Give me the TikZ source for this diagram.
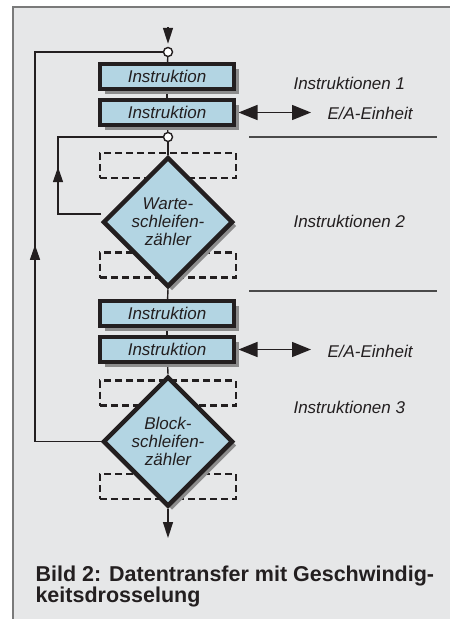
\documentclass[tikz,border=0pt]{standalone}
\usepackage{fontspec}
\setmainfont{Liberation Sans}
\usetikzlibrary{arrows.meta,positioning,shapes.geometric,shadows,backgrounds,decorations.markings}
\definecolor{paneel}{HTML}{E6E7E8}
\definecolor{rahmen}{HTML}{7A7A7A}
\definecolor{kasten}{HTML}{B3D5E3}
\definecolor{strich}{HTML}{231F20}
\definecolor{trenn}{HTML}{4A4A4A}
\definecolor{schatten}{HTML}{8C8C8C}
\tikzset{
  schrift/.style={font=\fontsize{17}{18}\selectfont\itshape, text=strich},
  instr/.style={schrift, draw=strich, line width=4pt, fill=kasten, minimum width=134pt, minimum height=25pt,
                inner sep=0pt, drop shadow={shadow xshift=4.5pt, shadow yshift=-4.5pt, fill=schatten, opacity=1}},
  leer/.style={draw=strich, line width=2.2pt, dash pattern=on 7pt off 4pt, minimum width=136pt,
               minimum height=25pt, inner sep=0pt},
  zaehler/.style={schrift, diamond, aspect=1, draw=strich, line width=4.5pt, fill=kasten, minimum width=130pt,
                  minimum height=130pt, inner sep=0pt, align=center,
                  drop shadow={shadow xshift=4pt, shadow yshift=-4pt, fill=schatten, opacity=1}},
  knoten/.style={circle, draw=strich, fill=white, line width=1.4pt, minimum size=9pt, inner sep=0pt},
  lab/.style={schrift, anchor=west},
  verb/.style={draw=strich, line width=1.4pt},
  pfeil/.style={verb, -{Triangle[length=16pt, width=10pt]}},
  doppel/.style={verb, {Triangle[length=19pt, width=15pt]}-{Triangle[length=19pt, width=15pt]}},
  rueck/.style={verb, postaction={decorate, decoration={markings,
                mark=at position #1 with {\arrow{Triangle[length=15pt, width=10pt]}}}}},
}
\begin{document}
\begin{tikzpicture}[x=1pt, y=-1pt]
  \useasboundingbox (0,0) rectangle (450,619);

  % Hauptstrang
  \coordinate (ein) at (168,27);
  \node[knoten] (k1) at (168,52) {};
  \node[instr] (i1) at (167,76.5) {Instruktion};
  \node[instr] (i2) at (167,112.5) {Instruktion};
  \node[knoten] (k2) at (168,137) {};
  \node[leer] (l1) at (168,165.5) {};
  \node[leer] (l2) at (168,265) {};
  \node[zaehler] (w) at (168,222) {Warte-\\schleifen-\\zähler};
  \node[instr] (i3) at (167,313.5) {Instruktion};
  \node[instr] (i4) at (167,349.5) {Instruktion};
  \node[leer] (l3) at (168,393) {};
  \node[leer] (l4) at (168,486.5) {};
  \node[zaehler] (b) at (168,441.5) {Block-\\schleifen-\\zähler};
  \coordinate (aus) at (168,538);
  \coordinate (w0) at (101,214);
  \coordinate (r1) at (58,137);
  \coordinate (r2) at (35,52);

  % rechte Spalte
  \node[lab] (t1) at (290,83) {Instruktionen 1};
  \node[lab] (ea1) at (324,113) {E/A-Einheit};
  \node[lab] (t2) at (290,221) {Instruktionen 2};
  \node[lab] (ea2) at (324,351) {E/A-Einheit};
  \node[lab] (t3) at (290,407) {Instruktionen 3};

  \node[font=\fontsize{21.5}{21.5}\selectfont\bfseries, text=strich, align=left, anchor=north west]
    (bild) at (32,562) {Bild 2: Datentransfer mit Geschwindig-\\keitsdrosselung};

  \begin{scope}[on background layer]
    \fill[paneel] (13,7) rectangle (450,619);
    \draw[rahmen, line width=1.8pt] (13,619) -- (13,7) -- (450,7);
    \draw[trenn, line width=1.8pt] (249,137) -- (437,137);
    \draw[trenn, line width=1.8pt] (249,291) -- (437,291);
    \draw[pfeil, shorten >=3pt] (ein) -- (k1.north);
    \draw[verb] (k1) -- (i1);
    \draw[verb] (i1) -- (i2);
    \draw[verb] (i2) -- (k2);
    \draw[verb] (k2) -- (w.north);
    \draw[verb] (w.south) -- (i3);
    \draw[verb] (i3) -- (i4);
    \draw[verb] (i4) -- (b.north);
    \draw[pfeil] (b.south) -- (aus);
    \draw[rueck=0.4] (w0) -| (r1) -- (k2);
    \draw[rueck=0.45] (b.west) -| (r2) -- (k1);
    \draw[doppel, shorten <=2.5pt, shorten >=13pt] (i2.east) -- (ea1.west |- i2.east);
    \draw[doppel, shorten <=2.5pt, shorten >=13pt] (i4.east) -- (ea2.west |- i4.east);
  \end{scope}
\end{tikzpicture}
\end{document}
